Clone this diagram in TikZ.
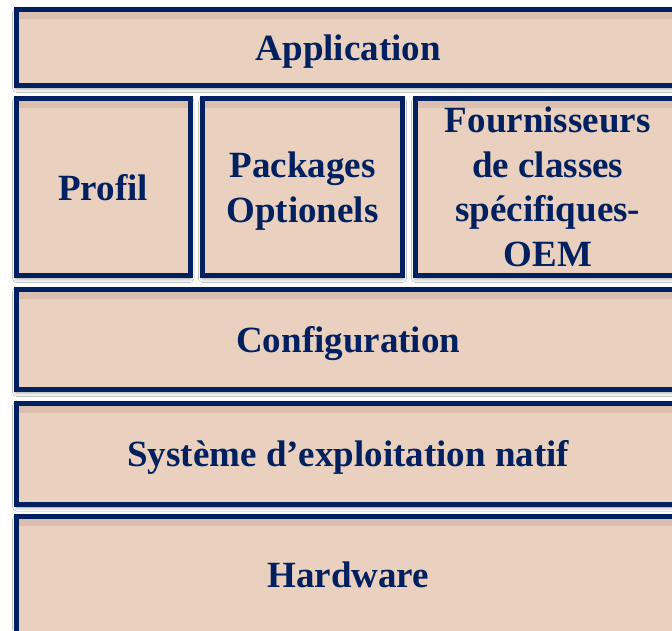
\documentclass[tikz,border=0pt]{standalone}
\usepackage{fontspec}
\setmainfont{Liberation Serif}
\usetikzlibrary{shadows.blur}
\definecolor{boxfill}{RGB}{233,208,191}
\definecolor{boxtop}{RGB}{218,190,174}
\definecolor{navy}{RGB}{0,32,96}
\tikzset{
  layer/.style={draw=navy, line width=5pt, fill=boxfill, inner sep=0pt,
    text=navy, font=\fontsize{37}{44.5}\selectfont\bfseries, align=center,
    blur shadow={shadow xshift=0pt, shadow yshift=-3pt, shadow blur radius=4pt, shadow opacity=45},
    path picture={\shade[top color=boxtop, bottom color=boxfill]
      (path picture bounding box.north west) rectangle ([yshift=-9pt]path picture bounding box.north east);}},
  flat/.style={text depth=0pt},
}
\begin{document}
\begin{tikzpicture}[x=1pt,y=-1pt]
\useasboundingbox (0,0) rectangle (672,630);
\fill[white] (0,0) rectangle (672,630);
\clip (0,0) rectangle (672,630);
\node[layer, flat, minimum width=663.5pt, minimum height=76pt] (app) at (348.25,47.5) {Application};
\node[layer, flat, minimum width=173.5pt, minimum height=177pt] (profil) at (103.25,187) {Profil};
\node[layer, flat, minimum width=200pt, minimum height=177pt] (pkg) at (302.5,187) {Packages\\Optionels};
\node[layer, minimum width=264.5pt, minimum height=177pt] (oem) at (547.75,187) {Fournisseurs\\de classes\\spécifiques-\\OEM};
\node[layer, flat, minimum width=663.5pt, minimum height=100.5pt] (conf) at (348.25,339.25) {Configuration};
\node[layer, flat, minimum width=663.5pt, minimum height=101pt] (os) at (348.25,453.5) {Système d’exploitation natif};
\node[layer, flat, minimum width=663.5pt, minimum height=117pt] (hw) at (348.25,575) {Hardware};
\end{tikzpicture}
\end{document}
